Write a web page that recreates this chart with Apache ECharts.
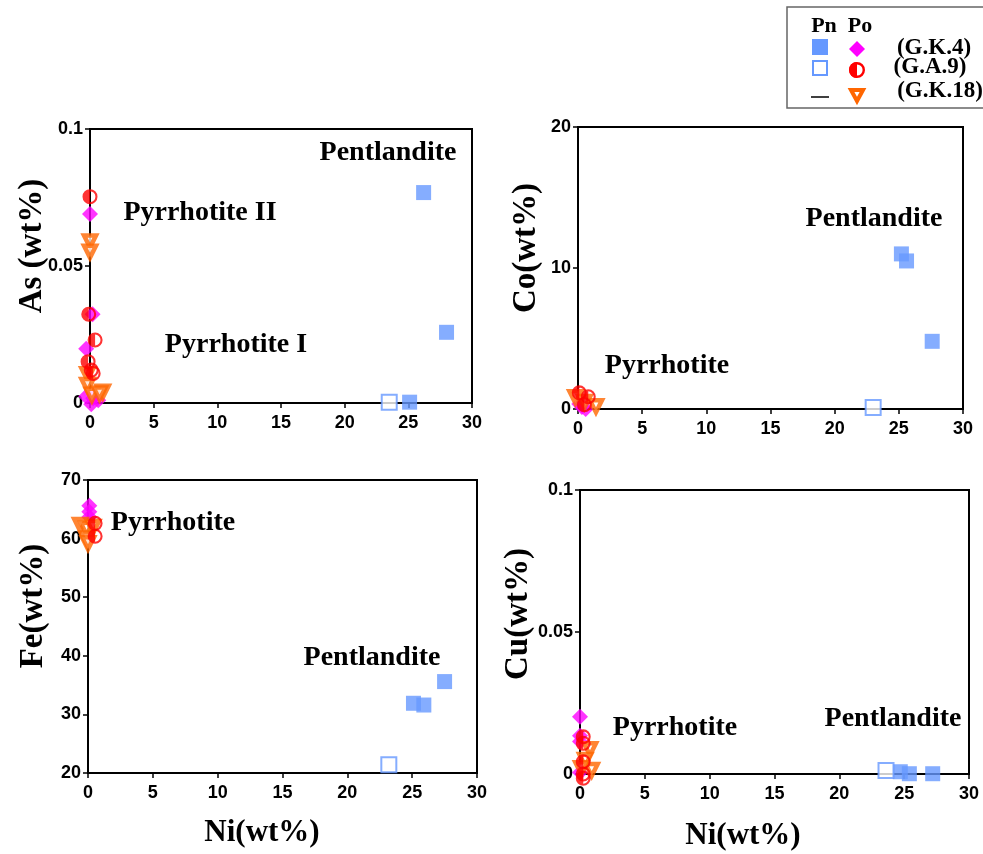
<!DOCTYPE html>
<html><head><meta charset="utf-8">
<script src="https://cdn.jsdelivr.net/npm/echarts@6/dist/echarts.min.js"></script>
<style>html,body{margin:0;padding:0;background:#fff}#c{width:983px;height:854px}</style>
</head><body><div id="c"></div>
<script>
// ---- tick values ----
const xTicks = [0, 5, 10, 15, 20, 25, 30];
const asTicks = [0, 0.05, 0.1];
const coTicks = [0, 10, 20];
const feTicks = [20, 30, 40, 50, 60, 70];
const cuTicks = [0, 0.05, 0.1];

// ---- As vs Ni ----
const asPnGK4 = [[26.2, 0.0768], [28.0, 0.0258], [25.1, 0.0003]];
const asPnGA9 = [[23.5, 0.0003]];
const asPoGK4 = [[0, 0.069], [0.2, 0.0324], [-0.3, 0.0198], [-0.3, 0.0024], [0.25, 0.0017], [0.65, 0.001], [0.1, -0.0005], [0.4, 0.003]];
const asPoGA9 = [[0, 0.0753], [-0.1, 0.0324], [0.4, 0.023], [-0.15, 0.0151], [0.25, 0.0108], [0.1, 0.012]];
const asPoGK18 = [[0, 0.0589], [0, 0.0552], [-0.2, 0.0105], [-0.2, 0.0066], [1.0, 0.0041], [0.15, 0.003], [0.75, 0.0035]];

// ---- Co vs Ni ----
const coPnGK4 = [[25.2, 11.0], [25.6, 10.5], [27.6, 4.8]];
const coPnGA9 = [[23.0, 0.1]];
const coPoGK4 = [[0.3, 0.15], [0.1, 0.35], [0.6, 0.0]];
const coPoGA9 = [[0.1, 1.15], [0.8, 0.87], [0.5, 0.3]];
const coPoGK18 = [[-0.2, 0.83], [1.4, 0.2], [0.5, 0.5]];

// ---- Fe vs Ni ----
const fePnGK4 = [[25.1, 31.9], [25.9, 31.6], [27.5, 35.6]];
const fePnGA9 = [[23.2, 21.4]];
const fePoGK4 = [[0.1, 65.6], [0.1, 64.6], [0.1, 63.7]];
const fePoGA9 = [[0.55, 62.6], [0.55, 60.4]];
const fePoGK18 = [[-0.6, 62.3], [-0.1, 61.7], [0.4, 62.0], [-0.1, 60.0], [0, 59.2]];

// ---- Cu vs Ni ----
const cuPnGK4 = [[24.7, 0.0008], [25.4, 0.0001], [27.2, 0.0001]];
const cuPnGA9 = [[23.6, 0.0012]];
const cuPoGK4 = [[0, 0.0202], [0, 0.0135], [0, 0.0114], [0, 0.0005]];
const cuPoGA9 = [[0.25, 0.0131], [0.25, 0.0108], [0.25, 0.0043], [0.25, 0.0], [0.25, -0.0015]];
const cuPoGK18 = [[0.77, 0.0087], [0.4, 0.0049], [0.9, 0.0014], [0.1, 0.002]];

const BLUE = '#6699FF', MAG = '#FF00FF', RED = '#FF0000', ORG = '#FF6600';
const HALF = 'path://M10,0A10,10,0,0,0,10,20Z M10,0A10,10,0,0,1,10,20L10,17.2A7.2,7.2,0,0,0,10,2.8Z';
const SERIF = "'Liberation Serif','Times New Roman',serif";
const SANS = "'Liberation Sans',Arial,sans-serif";

const grids = [
  {left: 90, top: 129, width: 382, height: 274},
  {left: 578, top: 127, width: 385, height: 282},
  {left: 88, top: 480, width: 389, height: 293},
  {left: 580, top: 490, width: 389, height: 284}
];
const yTickSets = [asTicks, coTicks, feTicks, cuTicks];
const panels = [
  [asPnGK4, asPnGA9, asPoGK4, asPoGA9, asPoGK18],
  [coPnGK4, coPnGA9, coPoGK4, coPoGA9, coPoGK18],
  [fePnGK4, fePnGA9, fePoGK4, fePoGA9, fePoGK18],
  [cuPnGK4, cuPnGA9, cuPoGK4, cuPoGA9, cuPoGK18]
];

const axisCommon = {
  axisLine: {show: true, onZero: false, lineStyle: {color: '#000', width: 2}},
  axisTick: {show: true, length: 5, lineStyle: {color: '#000', width: 1.5}},
  splitLine: {show: false},
  axisLabel: {color: '#000', fontWeight: 'bold', fontSize: 18, fontFamily: SANS}
};

const xAxis = grids.map((g, i) => Object.assign({}, axisCommon, {
  type: 'value', gridIndex: i, min: xTicks[0], max: xTicks[xTicks.length - 1],
  interval: xTicks[1] - xTicks[0],
  axisLabel: Object.assign({}, axisCommon.axisLabel, {margin: 11})
}));
const yAxis = grids.map((g, i) => {
  const t = yTickSets[i];
  return Object.assign({}, axisCommon, {
    type: 'value', gridIndex: i, min: t[0], max: t[t.length - 1], interval: t[1] - t[0],
    axisLabel: Object.assign({}, axisCommon.axisLabel, {margin: 7})
  });
});

const styles = [
  {symbol: 'rect', symbolSize: 15, itemStyle: {color: BLUE}},
  {symbol: 'rect', symbolSize: 15, itemStyle: {color: '#fff', borderColor: BLUE, borderWidth: 2}},
  {symbol: 'diamond', symbolSize: 16, itemStyle: {color: MAG}},
  {symbol: HALF, symbolSize: 15, itemStyle: {color: RED}},
  {symbol: 'triangle', symbolSize: 12, symbolRotate: 180, itemStyle: {color: '#fff', borderColor: ORG, borderWidth: 4.5}}
];
const names = ['Pn G.K.4', 'Pn G.A.9', 'Po G.K.4', 'Po G.A.9', 'Po G.K.18'];
const order = [0, 1, 2, 4, 3];
const series = [];
panels.forEach((p, gi) => {
  order.forEach(k => {
    series.push(Object.assign({
      type: 'scatter', name: names[k], xAxisIndex: gi, yAxisIndex: gi,
      data: p[k], clip: false, emphasis: {disabled: true}, animation: false
    }, styles[k]));
  });
});

function txt(x, y, text, size, rot) {
  const e = {type: 'text', x: x, y: y, z: 100,
    style: {text: text, x: 0, y: 0, font: 'bold ' + size + 'px ' + SERIF, fill: '#000',
      textAlign: 'center', textVerticalAlign: 'middle', align: 'center', verticalAlign: 'middle'}};
  if (rot) e.rotation = Math.PI / 2;
  return e;
}

const graphic = [
  // annotations
  txt(388, 153, 'Pentlandite', 28),
  txt(200, 213, 'Pyrrhotite II', 28),
  txt(236, 345, 'Pyrrhotite I', 28),
  txt(874, 219, 'Pentlandite', 28),
  txt(667, 366, 'Pyrrhotite', 28),
  txt(173, 523, 'Pyrrhotite', 28),
  txt(372, 658, 'Pentlandite', 28),
  txt(675, 728, 'Pyrrhotite', 28),
  txt(893, 719, 'Pentlandite', 28),
  // axis titles
  txt(32, 246, 'As (wt%)', 33, true),
  txt(526, 248, 'Co(wt%)', 33, true),
  txt(33, 606, 'Fe(wt%)', 33, true),
  txt(518, 614, 'Cu(wt%)', 33, true),
  txt(262, 833, 'Ni(wt%)', 31),
  txt(743, 836, 'Ni(wt%)', 31),
  // legend box
  {type: 'rect', shape: {x: 787, y: 7, width: 205, height: 101}, style: {fill: '#fff', stroke: '#666', lineWidth: 1.5}, z: 90},
  txt(824, 26, 'Pn', 22),
  txt(860, 26, 'Po', 22),
  {type: 'rect', shape: {x: 812, y: 39, width: 16, height: 16}, style: {fill: BLUE}, z: 100},
  {type: 'polygon', shape: {points: [[857, 41], [865, 49], [857, 57], [849, 49]]}, style: {fill: MAG}, z: 100},
  {type: 'rect', shape: {x: 813, y: 61, width: 14, height: 14}, style: {fill: '#fff', stroke: BLUE, lineWidth: 2}, z: 100},
  {type: 'circle', shape: {cx: 857, cy: 70, r: 6.8}, style: {fill: '#fff', stroke: RED, lineWidth: 2.4}, z: 100},
  {type: 'sector', shape: {cx: 857, cy: 70, r0: 0, r: 8, startAngle: Math.PI / 2, endAngle: Math.PI * 1.5}, style: {fill: RED}, z: 101},
  {type: 'line', shape: {x1: 811, y1: 97, x2: 829, y2: 97}, style: {stroke: '#000', lineWidth: 1.5}, z: 100},
  {type: 'polygon', shape: {points: [[851, 90], [863, 90], [857, 101]]}, style: {fill: '#fff', stroke: ORG, lineWidth: 4}, z: 100},
  txt(934, 48, '(G.K.4)', 23),
  txt(930, 67, '(G.A.9)', 23),
  txt(940, 91, '(G.K.18)', 23)
];

const chart = echarts.init(document.getElementById('c'), null, {renderer: 'canvas'});
chart.setOption({
  animation: false,
  backgroundColor: '#fff',
  grid: grids.map(g => Object.assign({show: true, borderColor: '#000', borderWidth: 2, backgroundColor: 'transparent'}, g)),
  xAxis: xAxis,
  yAxis: yAxis,
  series: series,
  graphic: graphic
});
</script>
</body></html>
